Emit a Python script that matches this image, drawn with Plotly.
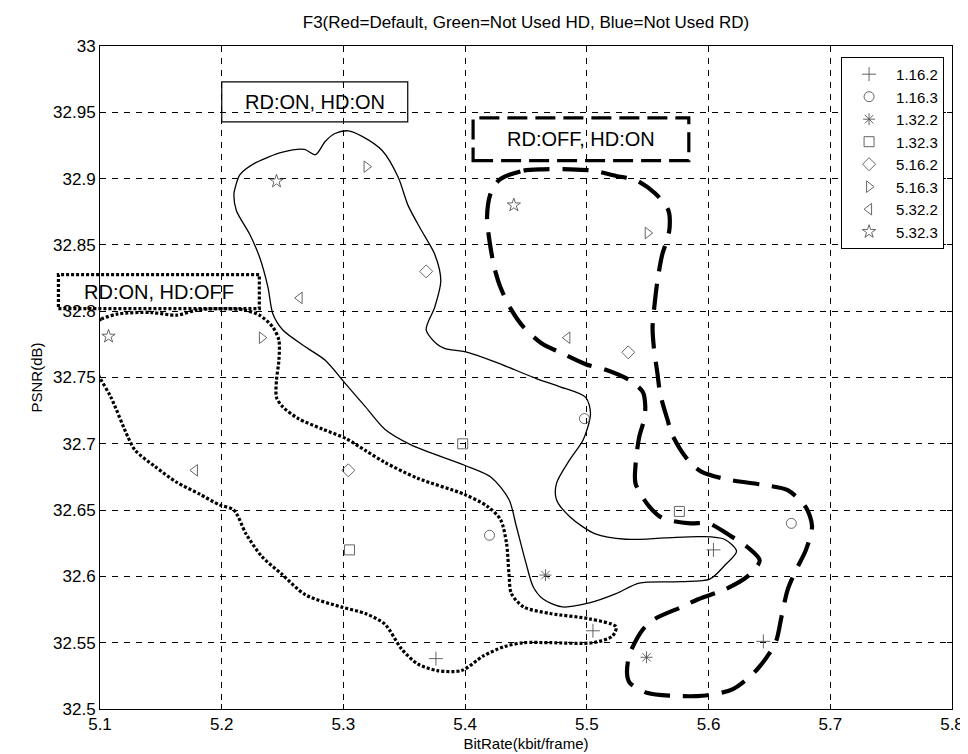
import plotly.graph_objects as go

# ---------------- axis ticks ----------------
x_tickvals = [5.1, 5.2, 5.3, 5.4, 5.5, 5.6, 5.7, 5.8]
x_ticktext = ["5.1", "5.2", "5.3", "5.4", "5.5", "5.6", "5.7", "5.8"]
y_tickvals = [32.5, 32.55, 32.6, 32.65, 32.7, 32.75, 32.8, 32.85, 32.9, 32.95, 33.0]
y_ticktext = ["32.5", "32.55", "32.6", "32.65", "32.7", "32.75", "32.8", "32.85", "32.9", "32.95", "33"]

# ---------------- marker series ----------------
names = ["1.16.2", "1.16.3", "1.32.2", "1.32.3", "5.16.2", "5.16.3", "5.32.2", "5.32.3"]
symbols = ["cross-thin-open", "circle-open", "asterisk-open", "square-open",
           "diamond-open", "triangle-right-open", "triangle-left-open", "star-open"]

s_1_16_2_x = [5.604, 5.505, 5.376, 5.645]
s_1_16_2_y = [32.620, 32.559, 32.538, 32.551]
s_1_16_3_x = [5.498, 5.420, 5.668]
s_1_16_3_y = [32.719, 32.631, 32.640]
s_1_32_2_x = [5.466, 5.549]
s_1_32_2_y = [32.601, 32.539]
s_1_32_3_x = [5.398, 5.576, 5.305]
s_1_32_3_y = [32.700, 32.649, 32.620]
s_5_16_2_x = [5.368, 5.534, 5.304]
s_5_16_2_y = [32.830, 32.769, 32.680]
s_5_16_3_x = [5.319, 5.233, 5.550]
s_5_16_3_y = [32.909, 32.780, 32.859]
s_5_32_2_x = [5.264, 5.178, 5.484]
s_5_32_2_y = [32.810, 32.680, 32.780]
s_5_32_3_x = [5.107, 5.245, 5.440]
s_5_32_3_y = [32.781, 32.898, 32.880]

series_x = [s_1_16_2_x, s_1_16_3_x, s_1_32_2_x, s_1_32_3_x, s_5_16_2_x, s_5_16_3_x, s_5_32_2_x, s_5_32_3_x]
series_y = [s_1_16_2_y, s_1_16_3_y, s_1_32_2_y, s_1_32_3_y, s_5_16_2_y, s_5_16_3_y, s_5_32_2_y, s_5_32_3_y]

# ---------------- hand-drawn region outlines ----------------
# RD:ON, HD:ON (solid)
on_on_x = [5.304, 5.315, 5.332, 5.345, 5.353, 5.364, 5.375, 5.380, 5.375, 5.368, 5.377, 5.383, 5.402,
           5.424, 5.459, 5.478, 5.499, 5.503, 5.497, 5.486, 5.475, 5.475, 5.486, 5.507, 5.532, 5.564,
           5.594, 5.613, 5.623, 5.613, 5.601, 5.578, 5.543, 5.524, 5.502, 5.480, 5.464, 5.456, 5.450,
           5.442, 5.436, 5.421, 5.399, 5.356, 5.334, 5.318, 5.302, 5.285, 5.269, 5.250, 5.242, 5.238,
           5.231, 5.223, 5.212, 5.210, 5.211, 5.215, 5.228, 5.250, 5.268, 5.277, 5.285, 5.293, 5.304]
on_on_y = [32.936, 32.932, 32.921, 32.901, 32.880, 32.861, 32.843, 32.823, 32.803, 32.786, 32.775, 32.772,
           32.769, 32.762, 32.749, 32.743, 32.735, 32.723, 32.703, 32.688, 32.670, 32.658, 32.645, 32.632,
           32.628, 32.629, 32.630, 32.628, 32.619, 32.608, 32.598, 32.596, 32.595, 32.587, 32.580, 32.577,
           32.583, 32.592, 32.610, 32.638, 32.658, 32.675, 32.684, 32.699, 32.711, 32.728, 32.745, 32.763,
           32.773, 32.786, 32.798, 32.818, 32.841, 32.858, 32.876, 32.888, 32.893, 32.903, 32.912, 32.920,
           32.922, 32.918, 32.928, 32.934, 32.936]

# RD:ON, HD:OFF (dotted)
on_off_x = [5.092, 5.101, 5.115, 5.142, 5.163, 5.180, 5.202, 5.218, 5.231, 5.242, 5.247, 5.247, 5.245,
            5.245, 5.250, 5.263, 5.283, 5.302, 5.318, 5.334, 5.361, 5.399, 5.418, 5.429, 5.434, 5.436,
            5.438, 5.448, 5.470, 5.502, 5.524, 5.521, 5.505, 5.470, 5.448, 5.432, 5.415, 5.397, 5.377,
            5.361, 5.348, 5.334, 5.318, 5.298, 5.269, 5.249, 5.233, 5.220, 5.210, 5.198, 5.182, 5.163,
            5.145, 5.129, 5.123, 5.109, 5.098, 5.089, 5.089, 5.092]
on_off_y = [32.789, 32.794, 32.798, 32.799, 32.797, 32.801, 32.802, 32.801, 32.797, 32.788, 32.778, 32.763,
            32.748, 32.735, 32.728, 32.719, 32.711, 32.704, 32.695, 32.686, 32.674, 32.662, 32.653, 32.643,
            32.625, 32.602, 32.587, 32.577, 32.572, 32.568, 32.562, 32.555, 32.550, 32.550, 32.550, 32.547,
            32.540, 32.529, 32.529, 32.534, 32.545, 32.564, 32.572, 32.577, 32.586, 32.602, 32.615, 32.632,
            32.650, 32.654, 32.662, 32.671, 32.683, 32.695, 32.705, 32.735, 32.753, 32.771, 32.780, 32.789]

# RD:OFF, HD:ON (dashed)
off_on_x = [5.428, 5.448, 5.464, 5.486, 5.505, 5.524, 5.540, 5.556, 5.567, 5.568, 5.566, 5.562, 5.558,
            5.556, 5.554, 5.555, 5.558, 5.560, 5.563, 5.566, 5.570, 5.582, 5.594, 5.616, 5.645, 5.665,
            5.680, 5.685, 5.680, 5.672, 5.665, 5.660, 5.655, 5.640, 5.620, 5.595, 5.570, 5.550, 5.535,
            5.533, 5.535, 5.546, 5.556, 5.578, 5.592, 5.613, 5.632, 5.642, 5.632, 5.619, 5.600, 5.585,
            5.562, 5.551, 5.540, 5.540, 5.543, 5.547, 5.548, 5.546, 5.535, 5.515, 5.499, 5.478, 5.464,
            5.448, 5.438, 5.429, 5.424, 5.420, 5.418, 5.421, 5.428]
off_on_y = [32.899, 32.906, 32.907, 32.907, 32.906, 32.902, 32.899, 32.889, 32.876, 32.863, 32.854, 32.843,
            32.823, 32.808, 32.788, 32.773, 32.753, 32.739, 32.728, 32.719, 32.707, 32.689, 32.679, 32.673,
            32.669, 32.665, 32.652, 32.638, 32.620, 32.605, 32.590, 32.570, 32.550, 32.530, 32.515, 32.510,
            32.510, 32.512, 32.520, 32.527, 32.541, 32.560, 32.568, 32.577, 32.583, 32.590, 32.600, 32.612,
            32.622, 32.630, 32.640, 32.640, 32.644, 32.653, 32.670, 32.684, 32.705, 32.718, 32.728, 32.739,
            32.748, 32.756, 32.760, 32.769, 32.775, 32.788, 32.801, 32.818, 32.833, 32.853, 32.871, 32.889,
            32.899]

FONT = "Liberation Sans, Arial, sans-serif"
MARK = "#555555"

fig = go.Figure()

# outlines
fig.add_trace(go.Scatter(x=on_on_x, y=on_on_y, mode="lines", showlegend=False, hoverinfo="skip",
                         line=dict(color="black", width=1.3, shape="spline", smoothing=0.8)))
fig.add_trace(go.Scatter(x=on_off_x, y=on_off_y, mode="lines", showlegend=False, hoverinfo="skip",
                         line=dict(color="black", width=3.2, dash="3px,2px", shape="spline", smoothing=0.8)))
fig.add_trace(go.Scatter(x=off_on_x, y=off_on_y, mode="lines", showlegend=False, hoverinfo="skip",
                         line=dict(color="black", width=4.2, dash="26px,13px", shape="spline", smoothing=0.8)))

# marker series
for nm, sym, xs, ys in zip(names, symbols, series_x, series_y):
    fig.add_trace(go.Scatter(x=xs, y=ys, mode="markers", name=nm,
                             marker=dict(symbol=sym, size=10, color=MARK,
                                         line=dict(color=MARK, width=0.9))))

# label boxes (paper coordinates)
box_specs = [
    # x0, x1, y0, y1, dash, width, text
    (0.1429, 0.3612, 0.8857, 0.9458, "solid", 1.2, "RD:ON, HD:ON"),
    (0.4379, 0.6911, 0.8271, 0.8917, "20px,8px", 3.2, "RD:OFF, HD:ON"),
    (-0.0488, 0.1870, 0.6040, 0.6551, "3px,2px", 3.2, "RD:ON, HD:OFF"),
]
for x0, x1, y0, y1, dash, w, txt in box_specs:
    fig.add_shape(type="rect", xref="paper", yref="paper", x0=x0, x1=x1, y0=y0, y1=y1,
                  line=dict(color="black", width=w, dash=dash), layer="above")
    fig.add_annotation(xref="paper", yref="paper", x=(x0 + x1) / 2, y=(y0 + y1) / 2,
                       text=txt, showarrow=False, font=dict(family=FONT, size=20, color="black"),
                       xanchor="center", yanchor="middle")

fig.update_layout(
    width=968, height=754,
    margin=dict(l=92, r=15, t=38, b=51),
    plot_bgcolor="white", paper_bgcolor="white",
    font=dict(family=FONT, color="black", size=14),
    title=dict(text="F3(Red=Default, Green=Not Used HD, Blue=Not Used RD)",
               x=0.5, xref="paper", xanchor="center", y=0.982, yref="container", yanchor="middle",
               font=dict(size=17, family=FONT)),
    legend=dict(x=0.9907, y=0.9835, xanchor="right", yanchor="top",
                bgcolor="white", bordercolor="black", borderwidth=1, itemwidth=44,
                font=dict(size=15, family=FONT), tracegroupgap=0),
    showlegend=True,
)
fig.update_xaxes(range=[5.1, 5.8], tickmode="array", tickvals=x_tickvals, ticktext=x_ticktext,
                 ticks="inside", ticklen=5, tickcolor="black", showline=True, linecolor="black",
                 linewidth=1, mirror="ticks", showgrid=True, gridcolor="black", gridwidth=1,
                 griddash="6px,6px", zeroline=False, tickfont=dict(size=17),
                 title=dict(text="BitRate(kbit/frame)", font=dict(size=15), standoff=5))
fig.update_yaxes(range=[32.5, 33.0], tickmode="array", tickvals=y_tickvals, ticktext=y_ticktext,
                 ticks="inside", ticklen=5, tickcolor="black", showline=True, linecolor="black",
                 linewidth=1, mirror="ticks", showgrid=True, gridcolor="black", gridwidth=1,
                 griddash="6px,6px", zeroline=False, tickfont=dict(size=17),
                 title=dict(text="PSNR(dB)", font=dict(size=15), standoff=6))

fig.write_html("out.html")
